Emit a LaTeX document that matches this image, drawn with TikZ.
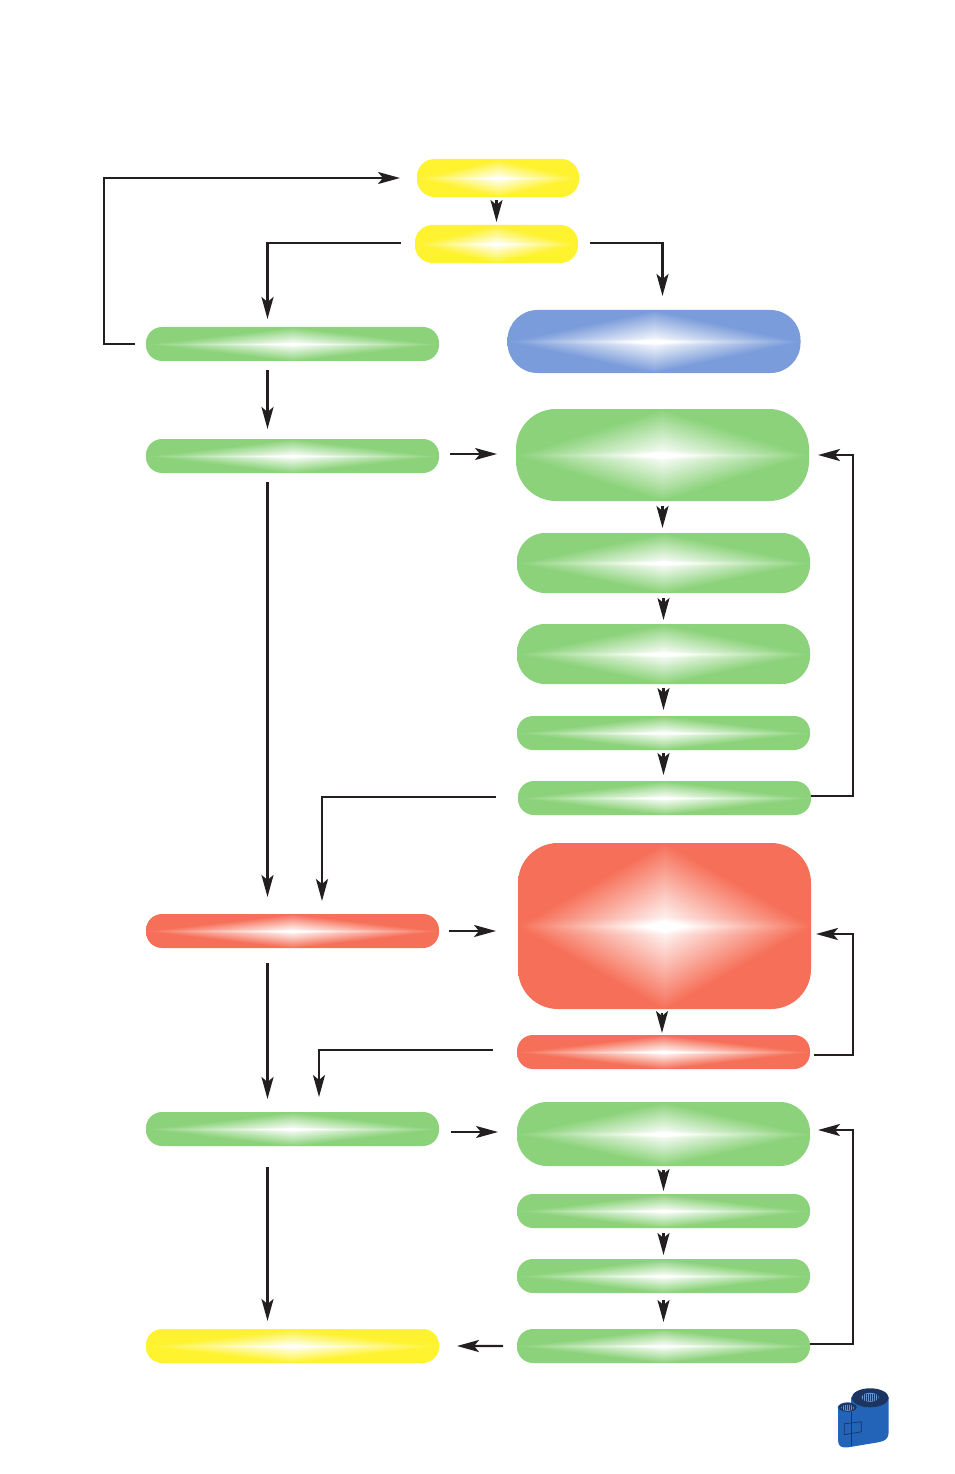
\documentclass[tikz,border=0pt]{standalone}
\usetikzlibrary{positioning, arrows.meta}

% diamond glow with a bright streak along the middle line
\newcommand{\declareglow}[4]{%
  \pgfdeclarefunctionalshading{#1}{\pgfpoint{-50bp}{-50bp}}{\pgfpoint{50bp}{50bp}}{}{
    abs 25 div exch abs 25 div exch
    2 copy add 1 exch sub dup 0 lt {pop 0} if
    3 1 roll
    10 mul 1 exch sub dup 0 lt {pop 0} if
    exch 1 exch sub mul 0.17 mul
    add dup 1 gt {pop 1} if
    dup dup
    1 #2 sub mul #2 add
    3 1 roll
    1 #3 sub mul #3 add
    exch
    1 #4 sub mul #4 add
  }}
\declareglow{glowgreen}{0.545}{0.824}{0.478}
\declareglow{glowyellow}{1.0}{0.95}{0.18}
\declareglow{glowred}{0.965}{0.44}{0.35}
\declareglow{glowblue}{0.48}{0.61}{0.855}

\definecolor{arrowink}{RGB}{35,31,32}
\definecolor{ribbonblue}{RGB}{36,100,184}
\definecolor{ribbondark}{RGB}{28,52,96}

\begin{document}
\begin{tikzpicture}[
    flowbox/.style={
        rectangle,
        shade,
        inner sep=0pt,
        outer sep=0pt,
        minimum width=5.86cm
    },
    greenbox/.style={flowbox, shading=glowgreen},
    redbox/.style={flowbox, shading=glowred},
    yellowbox/.style={flowbox, shading=glowyellow},
    bluebox/.style={flowbox, shading=glowblue},
    slim/.style={minimum height=0.68cm, rounded corners=0.32cm},
    mid/.style={minimum height=1.2cm, rounded corners=0.56cm},
    arr/.style={-{Stealth[length=0.44cm, width=0.24cm, inset=0.1cm]}, line width=1.4pt, draw=arrowink},
    gaps/.style 2 args={shorten <=#1, shorten >=#2}
]
    \useasboundingbox (0,0) rectangle (19.08,-29.48);

    % --- TOP ---
    \node[yellowbox, minimum width=3.24cm, minimum height=0.76cm, rounded corners=0.35cm] (ytop) at (9.96,-3.56) {};
    \node[yellowbox, minimum width=3.26cm, minimum height=0.76cm, rounded corners=0.35cm, below=0.56cm of ytop, xshift=-0.03cm] (ytwo) {};
    \node[bluebox, minimum height=1.26cm, rounded corners=0.6cm, below=0.94cm of ytwo, xshift=3.15cm] (blue) {};

    % --- LEFT COLUMN ---
    \node[greenbox, slim, below=1.28cm of ytwo, xshift=-4.08cm] (leftone) {};
    \node[greenbox, slim, below=1.56cm of leftone] (lefttwo) {};
    \node[redbox, slim, below=8.82cm of lefttwo] (redleft) {};
    \node[greenbox, slim, below=3.28cm of redleft] (leftthree) {};
    \node[yellowbox, slim, below=3.66cm of leftthree] (leftend) {};

    % --- RIGHT COLUMN ---
    \node[greenbox, minimum height=1.84cm, rounded corners=0.8cm, below=0.72cm of blue, xshift=0.17cm] (rone) {};
    \node[greenbox, mid, below=0.64cm of rone, xshift=0.02cm] (rtwo) {};
    \node[greenbox, mid, below=0.62cm of rtwo] (rthree) {};
    \node[greenbox, slim, below=0.64cm of rthree] (rfour) {};
    \node[greenbox, slim, below=0.62cm of rfour, xshift=0.02cm] (rfive) {};
    \node[redbox, minimum height=3.32cm, rounded corners=0.8cm, below=0.56cm of rfive] (redbig) {};
    \node[redbox, slim, below=0.52cm of redbig, xshift=-0.02cm] (redthin) {};
    \node[greenbox, minimum height=1.28cm, rounded corners=0.6cm, below=0.66cm of redthin] (rsix) {};
    \node[greenbox, slim, below=0.56cm of rsix] (rseven) {};
    \node[greenbox, slim, below=0.62cm of rseven] (reight) {};
    \node[greenbox, slim, below=0.72cm of reight] (rnine) {};

    % --- RAILS ---
    \coordinate (railin) at ([xshift=-0.5cm]leftone.south);
    \coordinate (railout) at ([xshift=-0.84cm]leftone.west);
    \coordinate (railback) at ([xshift=0.84cm]rfive.east);
    \coordinate (railmid) at ([xshift=0.59cm]redleft.north);
    \coordinate (railend) at ([xshift=0.53cm]leftthree.north);

    % --- TOP CONNECTIONS ---
    \draw[arr, gaps={0.06cm}{0.06cm}] (ytwo.north |- ytop.south) -- (ytwo.north);
    \draw[arr, gaps={0.22cm}{0.34cm}] (leftone.west) -- (leftone.west -| railout) |- (ytop.west);
    \draw[arr, gaps={0.28cm}{0.16cm}] ([yshift=0.02cm]ytwo.west) -| (leftone.north -| railin);
    \draw[arr, gaps={0.24cm}{0.28cm}] ([yshift=0.02cm]ytwo.east) -| (blue.north -| rone.north);

    % --- LEFT CONNECTIONS ---
    \draw[arr, gaps={0.18cm}{0.2cm}] (leftone.south -| railin) -- (lefttwo.north -| railin);
    \draw[arr, gaps={0.18cm}{0.34cm}] (lefttwo.south -| railin) -- (redleft.north -| railin);
    \draw[arr, gaps={0.3cm}{0.26cm}] (redleft.south -| railin) -- (leftthree.north -| railin);
    \draw[arr, gaps={0.42cm}{0.16cm}] (leftthree.south -| railin) -- (leftend.north -| railin);

    % --- ACROSS ---
    \draw[arr, gaps={0.22cm}{0.38cm}] ([yshift=0.02cm]rone.west -| lefttwo.east) -- ([yshift=0.02cm]rone.west);
    \draw[arr, gaps={0.2cm}{0.44cm}] (redleft.east) -- (redleft.east -| redbig.west);
    \draw[arr, gaps={0.24cm}{0.38cm}] ([yshift=-0.06cm]leftthree.east) -- ([yshift=-0.06cm]leftthree.east -| rsix.west);
    \draw[arr, gaps={0.28cm}{0.36cm}] (rnine.west) -- (leftend.east);

    % --- RIGHT CONNECTIONS ---
    \draw[arr, gaps={0.1cm}{0.1cm}] (rone.south) -- (rone.south |- rtwo.north);
    \draw[arr, gaps={0.1cm}{0.08cm}] (rtwo.south) -- (rthree.north);
    \draw[arr, gaps={0.08cm}{0.12cm}] (rthree.south) -- (rfour.north);
    \draw[arr, gaps={0.06cm}{0.12cm}] (rfour.south) -- (rfour.south |- rfive.north);
    \draw[arr, gaps={0.08cm}{0.04cm}] ([xshift=-0.03cm]redthin.north |- redbig.south) -- ([xshift=-0.03cm]redthin.north);
    \draw[arr, gaps={0.08cm}{0.06cm}] (rsix.south) -- (rseven.north);
    \draw[arr, gaps={0.1cm}{0.08cm}] (rseven.south) -- (reight.north);
    \draw[arr, gaps={0.14cm}{0.14cm}] (reight.south) -- (rnine.north);

    % --- LOOPS BACK ---
    \draw[arr, gaps={0cm}{0.18cm}] ([yshift=0.04cm]rfive.east) -- ([yshift=0.04cm]rfive.east -| railback) |- (rone.east);
    \draw[arr, gaps={0.08cm}{0.1cm}] ([yshift=-0.06cm]redthin.east) -- ([yshift=-0.06cm]redthin.east -| railback) |- ([yshift=-0.16cm]redbig.east);
    \draw[arr, gaps={0cm}{0.16cm}] ([yshift=0.04cm]rnine.east) -- ([yshift=0.04cm]rnine.east -| railback) |- ([yshift=0.08cm]rsix.east);

    % --- DOWN INTO THE LEFT COLUMN ---
    \draw[arr, gaps={0.44cm}{0.26cm}] ([yshift=0.02cm]rfive.west) -| (railmid);
    \draw[arr, gaps={0.48cm}{0.3cm}] ([yshift=0.04cm]redthin.west) -| (railend);

    % --- RIBBON ---
    \begin{scope}[x=0.02cm, y=-0.02cm]
        \fill[ribbonblue] (838,1406) -- (838,1441) .. controls (838,1446) and (842,1448) .. (848,1447)
            -- (878,1442) .. controls (885,1441) and (888.5,1438) .. (888.5,1432) -- (888.5,1397) -- (851,1397) -- (851,1404) -- cycle;
        \fill[ribbondark] (870,1397.5) ellipse (18.5 and 9.5);
        \fill[ribbonblue!70!white] (870,1397) ellipse (8.5 and 4.5);
        \foreach \s in {863,865,...,877} {
            \draw[ribbondark, line width=0.3pt] (\s,1393.5) -- (\s,1400.5);
        }
        \fill[ribbonblue] (847.5,1407.5) ellipse (10 and 5.5);
        \fill[ribbondark] (847.5,1407) ellipse (9 and 4.5);
        \fill[ribbonblue!70!white] (847.5,1407.5) ellipse (6.5 and 3);
        \foreach \s in {842,844,...,852} {
            \draw[ribbondark, line width=0.3pt] (\s,1405) -- (\s,1410);
        }
        \draw[ribbondark, line width=0.4pt] (851,1412) -- (851,1446);
        \draw[ribbondark, line width=0.4pt] (844,1423.5) -- (861,1421.5) -- (861,1431.5) -- (844,1434.5) -- cycle;
    \end{scope}
\end{tikzpicture}
\end{document}
